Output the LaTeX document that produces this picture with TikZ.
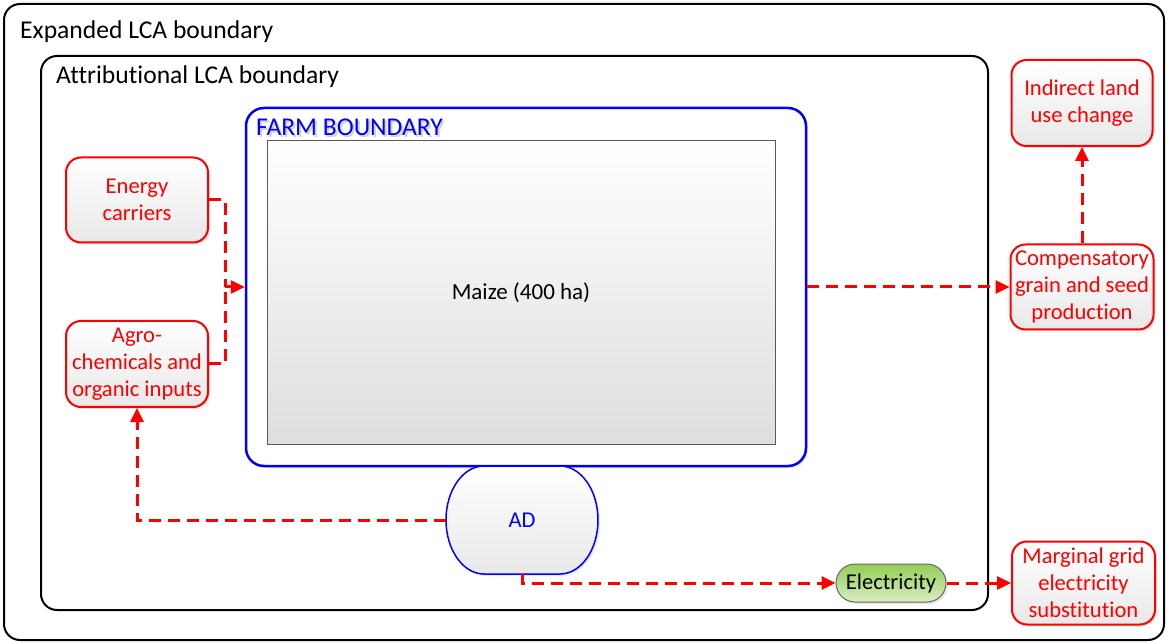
\documentclass[tikz,border=0pt]{standalone}
\usepackage{fontspec}
\setmainfont{Carlito}[Ligatures=NoCommon]
\usetikzlibrary{arrows.meta,shadows}
\definecolor{flowred}{RGB}{255,0,0}
\definecolor{farmblue}{RGB}{0,0,255}
\definecolor{elecgreen}{RGB}{146,206,84}
\definecolor{eleclight}{RGB}{218,238,196}
\tikzset{
  boundary/.style={draw=black, line width=2pt, rounded corners=16pt, inner sep=0pt},
  effectbox/.style={draw=flowred, line width=2pt, rounded corners=15pt,
    top color=white, bottom color=black!9, text=flowred, align=center,
    minimum width=142pt, minimum height=85pt, inner sep=1pt,
    drop shadow={opacity=0.22, shadow xshift=2pt, shadow yshift=-2pt}},
  flowline/.style={draw=flowred, line width=3pt, dash pattern=on 12pt off 7pt},
  flow/.style={flowline, -{Triangle[length=14pt,width=13pt]}},
  label/.style={anchor=west, inner sep=0pt, font=\fontsize{25.6}{30}\selectfont}
}
\begin{document}
\begin{tikzpicture}[x=1pt, y=-1pt, font=\fontsize{22.6}{27}\selectfont]
  % canvas
  \path[use as bounding box, fill=white] (0,0) rectangle (1168,644);

  % nested boundaries
  \node[boundary, minimum width=1160pt, minimum height=636pt] (expanded) at (584,322) {};
  \node[label] (explabel) at (20,32) {Expanded LCA boundary};
  \node[boundary, minimum width=947pt, minimum height=554pt] (attrib) at (514.5,333) {};
  \node[label] (attlabel) at (56,77) {Attributional LCA boundary};

  % farm
  \node[draw=farmblue, line width=2.5pt, rounded corners=18pt, inner sep=0pt, fill=white,
        minimum width=560pt, minimum height=358pt,
        drop shadow={opacity=0.15, shadow xshift=2pt, shadow yshift=-2pt}] (farm) at (526,287) {};
  \node[label, text=black!18] (farmshade) at (258,129) {FARM BOUNDARY};
  \node[label, text=farmblue] (farmlabel) at (256,127) {FARM BOUNDARY};
  \node[draw=black!65, line width=0.8pt, top color=white, bottom color=black!13,
        minimum width=508pt, minimum height=304pt, inner sep=0pt] (maize) at (521,292) {};
  \node[font=\fontsize{23}{27}\selectfont] (maizelabel) at (521,293) {Maize (400 ha)};

  % inputs and consequential effects
  \node[effectbox] (energy) at (137,200) {Energy\\carriers};
  \node[effectbox, minimum height=86pt] (agro) at (137,364) {Agro-\\chemicals and\\organic inputs};
  \node[effectbox, minimum width=141pt, minimum height=86pt] (indirect) at (1082,103) {Indirect land\\use change};
  \node[effectbox, minimum width=143pt] (comp) at (1082,287) {Compensatory\\grain and seed\\production};
  \node[effectbox, minimum width=143pt, minimum height=83pt] (marginal) at (1083.5,583) {Marginal grid\\electricity\\substitution};

  % anaerobic digester
  \path[draw=farmblue, line width=1.5pt, top color=white, bottom color=black!9,
        drop shadow={opacity=0.18, shadow xshift=2pt, shadow yshift=-2pt}]
    (484,466) -- (560,466) arc[start angle=-90, end angle=90, x radius=38, y radius=54]
    -- (484,574) arc[start angle=90, end angle=270, x radius=38, y radius=54] -- cycle;
  \node[minimum width=152pt, minimum height=108pt, inner sep=0pt, text=farmblue] (ad) at (522,520) {AD};

  % electricity
  \node[draw=black!60, line width=1pt, rounded corners=19pt, top color=elecgreen, bottom color=eleclight,
        minimum width=110pt, minimum height=38pt, inner sep=0pt,
        drop shadow={opacity=0.2, shadow xshift=2pt, shadow yshift=-2pt}] (elec) at (891,583) {Electricity};

  % flows
  \coordinate (join) at (225,287);
  \draw[flowline] (energy.east) -| (join);
  \draw[flowline] (agro.east) -| (join);
  \draw[flow] (join) -- (farm.west);
  \draw[flow] (farm.east) -- (comp.west);
  \draw[flow] (comp.north) -- (indirect.south);
  \draw[flow] (ad.west) -| (agro.south);
  \draw[flow] (ad.south) |- (elec.west);
  \draw[flow] (elec.east) -- (marginal.west);
\end{tikzpicture}
\end{document}
